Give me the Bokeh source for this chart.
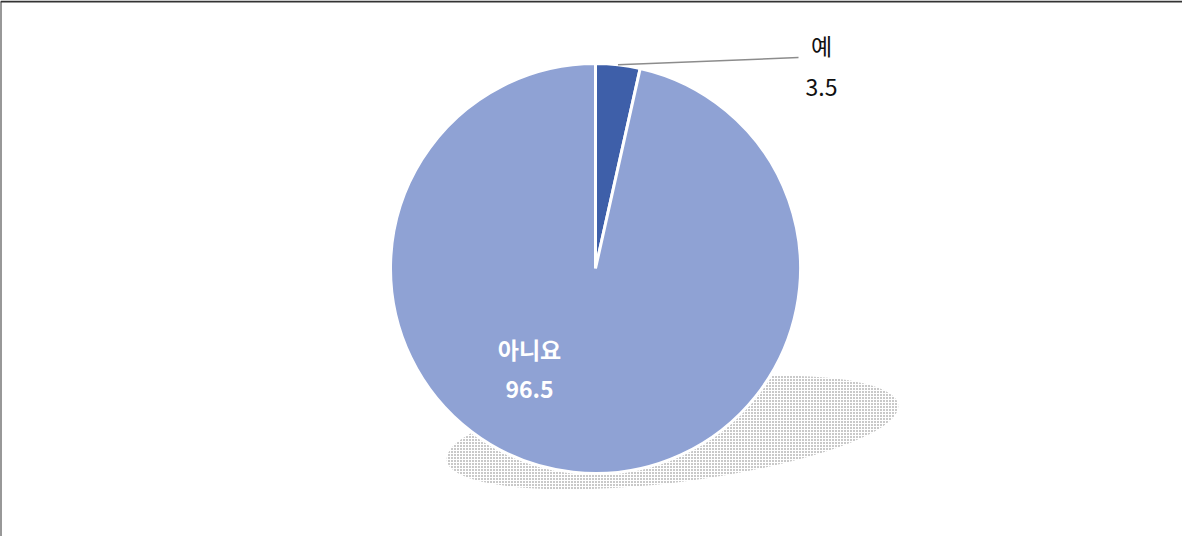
import numpy as np
from bokeh.plotting import figure
from bokeh.models import Range1d, ColumnDataSource
from bokeh.core.properties import value
from bokeh.embed import file_html
from bokeh.resources import INLINE

categories = ["예", "아니요"]
values = [3.5, 96.5]
colors = ["#3E5FA9", "#8FA2D4"]

W, H = 1182, 536
p = figure(width=W, height=H, output_backend="svg", toolbar_location=None,
           x_range=Range1d(0, W), y_range=Range1d(0, H), min_border=0)
p.axis.visible = False
p.grid.visible = False
p.outline_line_color = None
p.background_fill_color = "white"
p.border_fill_color = "white"

cx, cy, r = 595, 268, 205

# frame (top and left edges)
p.segment(x0=[0, 0], y0=[H - 1, 0], x1=[W, 0], y1=[H - 1, H - 1], line_color="#333333", line_width=2)

# shadow (stippled)
p.ellipse(x=[672], y=[104], width=455, height=100, angle=np.deg2rad(7),
          fill_color="#FFFFFF", fill_alpha=0, line_color=None,
          hatch_pattern="dot", hatch_color="#777777", hatch_scale=3, hatch_weight=1, hatch_alpha=1.0)

frac = np.array(values) / sum(values)
ends = np.pi / 2 - 2 * np.pi * np.cumsum(frac)
starts = np.concatenate([[np.pi / 2], ends[:-1]])
src = ColumnDataSource(dict(start=starts, end=ends, color=colors, cat=categories))
p.wedge(x=cx, y=cy, radius=r, start_angle="start", end_angle="end", direction="clock",
        fill_color="color", line_color="white", line_width=3, source=src)

# leader line for small slice
mid = (starts[0] + ends[0]) / 2
lx0, ly0 = cx + r * np.cos(mid), cy + r * np.sin(mid)
p.segment(x0=[lx0], y0=[ly0], x1=[798], y1=[479], line_color="#8c8c8c", line_width=1.5)

font = value("Noto Sans CJK KR")
p.text(x=[821], y=[492], text=[categories[0]], text_font=font, text_font_size="23px",
       text_color="#111111", text_align="center", text_baseline="middle")
p.text(x=[821], y=[449], text=[f"{values[0]}"], text_font=font, text_font_size="23px",
       text_color="#111111", text_align="center", text_baseline="middle")
p.text(x=[529], y=[188], text=[categories[1]], text_font=font, text_font_size="23px",
       text_font_style="bold", text_color="white", text_align="center", text_baseline="middle")
p.text(x=[529], y=[147], text=[f"{values[1]}"], text_font=font, text_font_size="23px",
       text_font_style="bold", text_color="white", text_align="center", text_baseline="middle")

open("out.html", "w").write(file_html(p, INLINE))
